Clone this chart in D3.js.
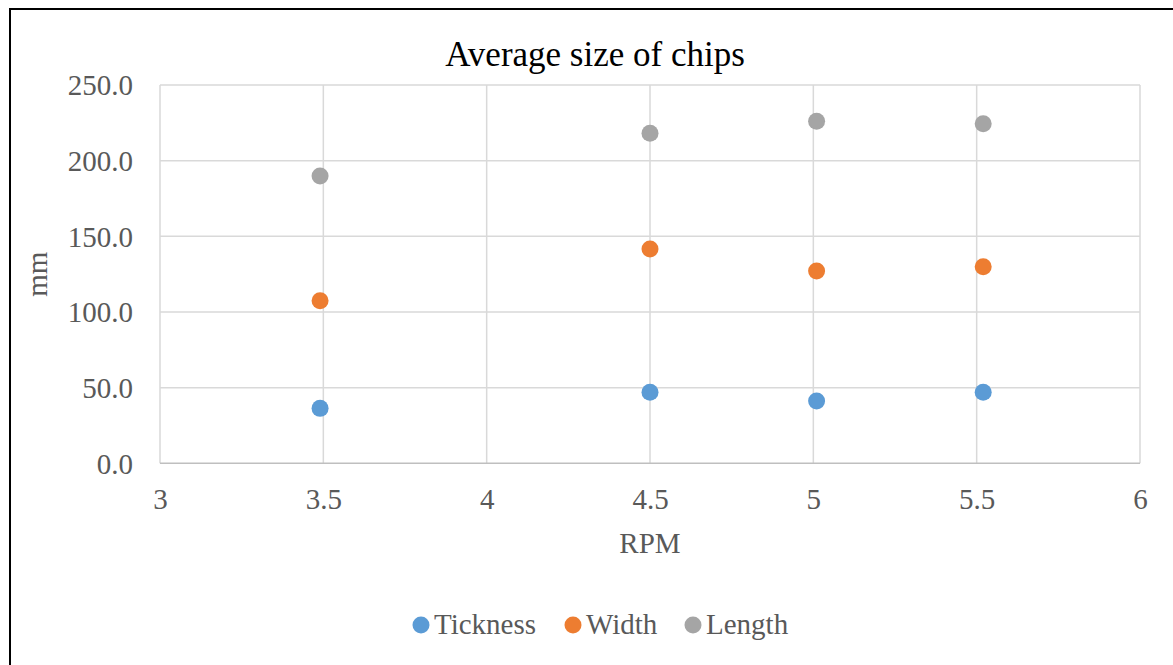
<!DOCTYPE html>
<html>
<head>
<meta charset="utf-8">
<script src="https://cdn.jsdelivr.net/npm/d3@7"></script>
<style>
  html, body { margin: 0; padding: 0; background: #fff; }
  svg { display: block; }
</style>
</head>
<body>
<svg id="chart" width="1173" height="665"></svg>
<script>
// RPM of each measurement
const rpm = [3.49, 4.5, 5.01, 5.52];
// Average chip dimensions (mm)
const tickness = [36.3, 46.9, 41.2, 46.9];
const width = [107.4, 141.6, 127.1, 129.9];
const length = [189.8, 218.1, 226.0, 224.4];

const seriesNames = ["Tickness", "Width", "Length"];
const seriesValues = [tickness, width, length];
const seriesColors = ["#5b9bd5", "#ed7d31", "#a5a5a5"];

const xTicks = [3, 3.5, 4, 4.5, 5, 5.5, 6];
const yTicks = [0, 50, 100, 150, 200, 250];

const svg = d3.select("#chart");
const font = "'Liberation Serif', 'Times New Roman', serif";
const textGrey = "#595959";

// Outer frame
svg.append("rect")
  .attr("x", 10).attr("y", 9)
  .attr("width", 1200).attr("height", 700)
  .attr("fill", "#fff")
  .attr("stroke", "#000").attr("stroke-width", 2);

const plot = { left: 160, top: 85, right: 1140, bottom: 463.3 };

const x = d3.scaleLinear().domain([3, 6]).range([plot.left, plot.right]);
const y = d3.scaleLinear().domain([0, 250]).range([plot.bottom, plot.top]);

// Gridlines
const grid = svg.append("g");
grid.selectAll("line.v").data(xTicks).join("line")
  .attr("x1", d => x(d)).attr("x2", d => x(d))
  .attr("y1", plot.top).attr("y2", plot.bottom)
  .attr("stroke", "#d9d9d9").attr("stroke-width", 1.5);
grid.selectAll("line.h").data(yTicks).join("line")
  .attr("x1", plot.left).attr("x2", plot.right)
  .attr("y1", d => y(d)).attr("y2", d => y(d))
  .attr("stroke", d => d === 0 ? "#bfbfbf" : "#d9d9d9")
  .attr("stroke-width", 1.5);

// Axes (labels only; lines come from the grid)
const xAxis = svg.append("g")
  .attr("transform", `translate(0,${plot.bottom})`)
  .call(d3.axisBottom(x).tickValues(xTicks).tickSize(0).tickPadding(25).tickFormat(d3.format("")));
const yAxis = svg.append("g")
  .attr("transform", `translate(${plot.left},0)`)
  .call(d3.axisLeft(y).tickValues(yTicks).tickSize(0).tickPadding(27).tickFormat(d3.format(".1f")));
[xAxis, yAxis].forEach(a => {
  a.select(".domain").remove();
  a.selectAll("text")
    .attr("font-family", font).attr("font-size", 29)
    .attr("fill", textGrey);
});
yAxis.selectAll("text").attr("dy", "0.34em");
xAxis.selectAll("text").attr("dy", "0.72em");

// Title
svg.append("text")
  .attr("x", 595).attr("y", 66)
  .attr("text-anchor", "middle")
  .attr("font-family", font).attr("font-size", 35)
  .attr("fill", "#000")
  .text("Average size of chips");

// Axis titles
svg.append("text")
  .attr("x", (plot.left + plot.right) / 2).attr("y", 553)
  .attr("text-anchor", "middle")
  .attr("font-family", font).attr("font-size", 29)
  .attr("fill", textGrey)
  .text("RPM");
svg.append("text")
  .attr("transform", `translate(47,${(plot.top + plot.bottom) / 2}) rotate(-90)`)
  .attr("text-anchor", "middle")
  .attr("font-family", font).attr("font-size", 29)
  .attr("fill", textGrey)
  .text("mm");

// Markers
seriesValues.forEach((vals, i) => {
  svg.append("g").selectAll("circle")
    .data(vals.map((v, j) => ({ x: rpm[j], y: v })))
    .join("circle")
    .attr("cx", d => x(d.x)).attr("cy", d => y(d.y))
    .attr("r", 8.5)
    .attr("fill", seriesColors[i]);
});

// Legend
const legendX = [421, 573, 693];
const legend = svg.append("g");
seriesNames.forEach((name, i) => {
  legend.append("circle")
    .attr("cx", legendX[i]).attr("cy", 625).attr("r", 8.5)
    .attr("fill", seriesColors[i]);
  legend.append("text")
    .attr("x", legendX[i] + 13).attr("y", 634)
    .attr("font-family", font).attr("font-size", 29)
    .attr("fill", textGrey)
    .text(name);
});
</script>
</body>
</html>
